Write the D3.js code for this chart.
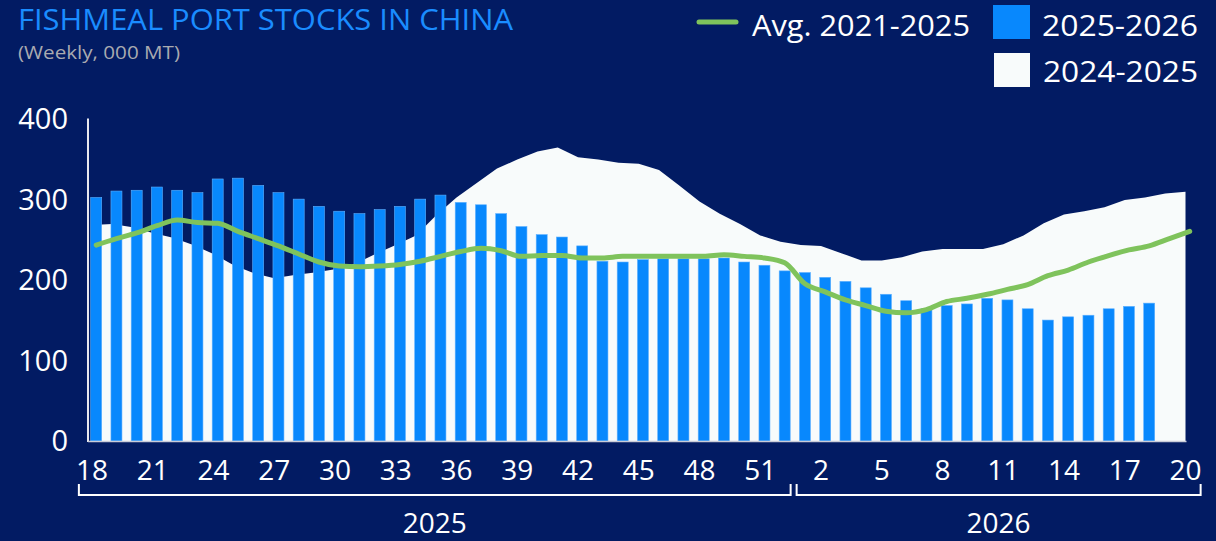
<!DOCTYPE html>
<html>
<head>
<meta charset="utf-8">
<script src="https://cdn.jsdelivr.net/npm/d3@7"></script>
<style>
  html, body { margin: 0; padding: 0; background: #021b63; }
  svg { display: block; font-family: "Open Sans", "Noto Sans", sans-serif; }
</style>
</head>
<body>
<div id="viz"></div>
<script>
// weeks on the x axis
var weeks2025 = d3.range(18, 53);
var weeks2026 = d3.range(1, 21);
var tickWeeks2025 = [18, 21, 24, 27, 30, 33, 36, 39, 42, 45, 48, 51];
var tickWeeks2026 = [2, 5, 8, 11, 14, 17, 20];
var years = ['2025', '2026'];
var yTicks = [0, 100, 200, 300, 400];

// 2025-2026 (bars), weekly, 000 MT
var stocks2526 = [302, 310, 311, 315, 311, 308, 325, 326, 317, 308, 300, 291, 285, 282, 287, 291, 300, 305, 296, 293,
  282, 266, 256, 253, 242, 223, 222, 225, 226, 226, 226, 227, 222, 218, 211,
  209, 203, 198, 190, 182, 174, 164, 168, 170, 177, 175, 164, 150, 154, 156, 164, 167, 171, null, null];

// 2024-2025 (white area)
var stocks2425 = [268, 269, 265, 258, 252, 243, 232, 218, 208, 202, 206, 209, 213, 220, 232, 243, 255, 280, 302, 320,
  338, 349, 359, 364, 352, 349, 345, 344, 336, 317, 297, 282, 269, 255, 247,
  243, 242, 233, 224, 224, 228, 235, 238, 238, 238, 244, 255, 270, 281, 285, 290, 299, 302, 307, 309];

// Avg. 2021-2025 (green line)
var avg2125 = [243, 251, 258, 267, 274, 271, 270, 260, 251, 242, 232, 222, 217, 216, 217, 219, 223, 229, 235, 239,
  236, 229, 230, 230, 227, 227, 229, 229, 229, 229, 229, 231, 229, 227, 221,
  195, 185, 175, 168, 161, 159, 163, 173, 177, 182, 188, 194, 205, 212, 222, 230, 237, 242, 251, 260];

var keys = weeks2025.map(function(w){ return '2025-' + w; })
  .concat(weeks2026.map(function(w){ return '2026-' + w; }));

var data = keys.map(function(k, i){
  return { key: k, week: +k.split('-')[1], year: k.split('-')[0],
           bar: stocks2526[i], area: stocks2425[i], avg: avg2125[i] };
});

var width = 1216, height = 541;
var svg = d3.select('#viz').append('svg')
  .attr('width', width).attr('height', height);

svg.append('rect').attr('width', width).attr('height', height).attr('fill', '#021b63');

var x = d3.scalePoint().domain(keys).range([92, 1185.5]);
var half = x.step() / 2;
var barShift = 4.2, barW = 11;
var y = d3.scaleLinear().domain([0, 400]).range([441, 118.5]);

// area 2024-2025
var area = d3.area()
  .x(function(d){ return x(d.key); })
  .y0(y(0))
  .y1(function(d){ return y(d.area); });
svg.append('path').datum(data)
  .attr('d', area)
  .attr('fill', '#f8fbfb');

// bars 2025-2026
svg.selectAll('.bar')
  .data(data.filter(function(d){ return d.bar != null; }))
  .enter().append('rect')
  .attr('class', 'bar')
  .attr('x', function(d){ return x(d.key) + barShift - barW / 2; })
  .attr('width', barW)
  .attr('y', function(d){ return y(d.bar); })
  .attr('height', function(d){ return y(0) - y(d.bar); })
  .attr('fill', '#0888fd')
  .attr('stroke', '#5db0ff')
  .attr('stroke-width', 0.6);

// avg line
var line = d3.line()
  .x(function(d){ return x(d.key) + barShift; })
  .y(function(d){ return y(d.avg); })
  .curve(d3.curveMonotoneX);
svg.append('path').datum(data)
  .attr('d', line)
  .attr('fill', 'none')
  .attr('stroke', '#7fc35c')
  .attr('stroke-width', 5)
  .attr('stroke-linecap', 'round')
  .attr('stroke-linejoin', 'round');

// axes lines
svg.append('line')
  .attr('x1', 88).attr('x2', 88)
  .attr('y1', y(400)).attr('y2', y(0) + 1)
  .attr('stroke', '#e8e8ee').attr('stroke-width', 2);
svg.append('line')
  .attr('x1', 88).attr('x2', x(keys[keys.length - 1]) + 1)
  .attr('y1', y(0) + 0.5).attr('y2', y(0) + 0.5)
  .attr('stroke', '#c9ccd8').attr('stroke-width', 1.5);

// y labels
svg.selectAll('.ylab')
  .data(yTicks)
  .enter().append('text')
  .attr('class', 'ylab')
  .attr('x', 68)
  .attr('y', function(d){ return y(d); })
  .attr('dy', '0.36em')
  .attr('text-anchor', 'end')
  .attr('font-size', 29)
  .attr('fill', '#ffffff')
  .text(function(d){ return d; });

// x labels
var tickKeys = tickWeeks2025.map(function(w){ return '2025-' + w; })
  .concat(tickWeeks2026.map(function(w){ return '2026-' + w; }));
svg.selectAll('.xlab')
  .data(tickKeys)
  .enter().append('text')
  .attr('class', 'xlab')
  .attr('x', function(d){ return x(d); })
  .attr('y', 480)
  .attr('text-anchor', 'middle')
  .attr('font-size', 28)
  .attr('fill', '#ffffff')
  .text(function(d){ return d.split('-')[1]; });

// year brackets
years.forEach(function(yr, gi){
  var ks = keys.filter(function(k){ return k.indexOf(yr) === 0; });
  var x0 = x(ks[0]) - half + (gi === 0 ? -3 : 6);
  var x1 = x(ks[ks.length - 1]) + half + (gi === 0 ? 0 : 5);
  svg.append('path')
    .attr('d', 'M' + x0 + ',484V495H' + x1 + 'V484')
    .attr('fill', 'none')
    .attr('stroke', '#ffffff')
    .attr('stroke-width', 2);
  svg.append('text')
    .attr('x', (x0 + x1) / 2)
    .attr('y', 533)
    .attr('text-anchor', 'middle')
    .attr('font-size', 28)
    .attr('fill', '#ffffff')
    .text(yr);
});

// title
svg.append('text')
  .attr('x', 18).attr('y', 29.5)
  .attr('font-size', 29)
  .attr('textLength', 495).attr('lengthAdjust', 'spacingAndGlyphs')
  .attr('fill', '#1a8cff')
  .text('FISHMEAL PORT STOCKS IN CHINA');
svg.append('text')
  .attr('x', 18).attr('y', 58.5)
  .attr('font-size', 19)
  .attr('textLength', 162).attr('lengthAdjust', 'spacingAndGlyphs')
  .attr('fill', '#a9aab0')
  .text('(Weekly, 000 MT)');

// legend
var lg = svg.append('g');
lg.append('line')
  .attr('x1', 699).attr('x2', 736).attr('y1', 22).attr('y2', 22)
  .attr('stroke', '#7fc35c').attr('stroke-width', 5).attr('stroke-linecap', 'round');
lg.append('text').attr('x', 752).attr('y', 35.5)
  .attr('font-size', 30).attr('fill', '#ffffff')
  .attr('textLength', 218).attr('lengthAdjust', 'spacingAndGlyphs')
  .text('Avg. 2021-2025');
lg.append('rect').attr('x', 993).attr('y', 5).attr('width', 37).attr('height', 34)
  .attr('fill', '#0888fd');
lg.append('text').attr('x', 1042).attr('y', 35.5)
  .attr('font-size', 30).attr('fill', '#ffffff')
  .attr('textLength', 156).attr('lengthAdjust', 'spacingAndGlyphs')
  .text('2025-2026');
lg.append('rect').attr('x', 994).attr('y', 53).attr('width', 36).attr('height', 34)
  .attr('fill', '#f8fbfb');
lg.append('text').attr('x', 1043).attr('y', 82)
  .attr('font-size', 30).attr('fill', '#ffffff')
  .attr('textLength', 155).attr('lengthAdjust', 'spacingAndGlyphs')
  .text('2024-2025');
</script>
</body>
</html>
